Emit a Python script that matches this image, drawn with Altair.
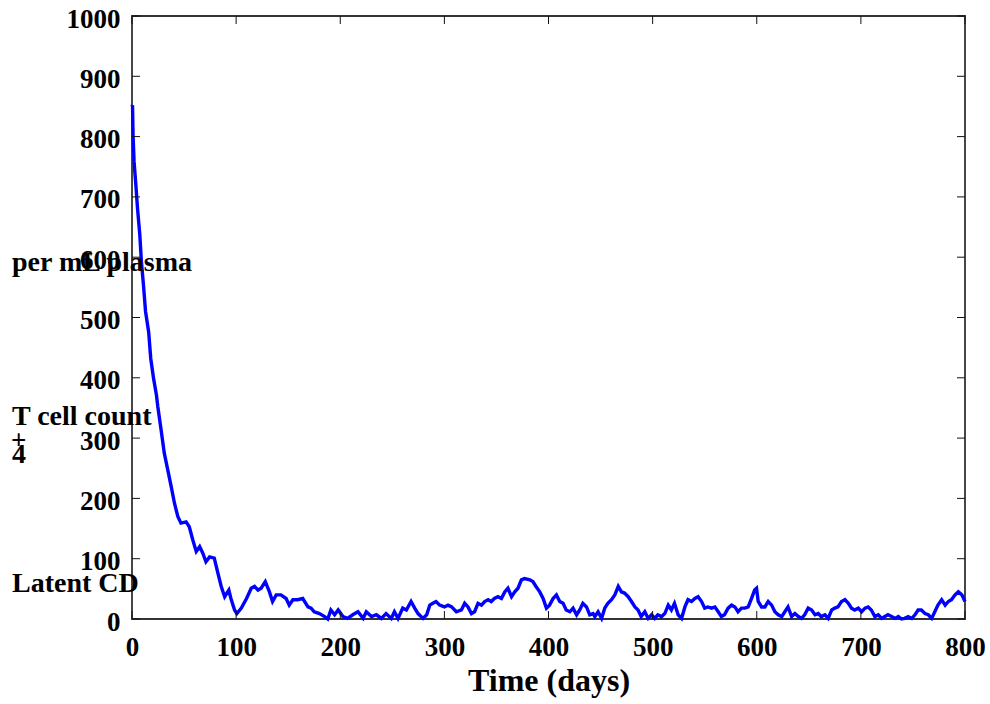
import altair as alt
import pandas as pd

# ---- data ----
days = [0, 0.5, 1, 2, 3.7, 5.3, 7.5, 9, 11, 13, 16, 18, 20.7, 23.5, 24.8, 28, 31, 34.4, 37.7,
        40.8, 44, 47, 52, 55, 58.4, 61.7, 65, 68, 71, 74.5, 79, 82.5, 85.7, 89, 93, 95, 98.5,
        100.7, 105, 110, 114.5, 117.7, 121, 124, 128, 132, 135, 138.5, 143, 148, 151, 154.5,
        159, 164, 169, 172, 175, 180, 185, 188, 191, 194.6, 198, 202.6, 207, 212, 217, 222,
        225, 230, 234.7, 239.5, 244, 249, 252, 255.5, 260, 263.5, 268, 271.5, 274.7, 279.5,
        283, 286, 289, 292, 295.5, 300, 303.5, 307, 311.5, 316.4, 319.5, 322.7, 326, 329,
        332.3, 335.6, 338.7, 342, 345, 348, 351.5, 354.8, 358, 361, 364.5, 367.6, 370.7, 374,
        377, 382, 385, 388, 391.6, 394.8, 398, 401, 404.4, 407.6, 410.8, 414, 417, 420.5,
        423.6, 427, 430, 433, 436.5, 439.6, 442.8, 444.5, 447.6, 451, 454, 457, 460.5, 463.7,
        467, 470, 473, 476.5, 479.7, 483, 486, 489, 492.5, 495.7, 499, 502, 505, 508.5, 511.7,
        515, 518, 521, 524.5, 527.8, 531, 534, 537.4, 540.6, 543.7, 547, 550, 553, 556.6,
        559.8, 563, 566, 569, 572.5, 575.8, 579, 582, 585.4, 588.6, 591.8, 595, 598, 599.8,
        601.4, 604.6, 607.8, 611, 614.3, 617.4, 620.6, 624, 627, 630, 633.5, 636.6, 640, 643,
        646, 649.4, 652.7, 656, 659, 662, 665.5, 668.6, 672, 675, 678, 681.4, 684.7, 688, 691,
        694, 697.5, 700.7, 704, 707, 710, 713.5, 716.7, 720, 723, 726, 729.6, 732.7, 736, 739,
        742, 745.5, 748.8, 752, 755, 758, 761.6, 764.7, 768, 771, 774, 777.6, 781, 784, 787,
        790.4, 793.6, 797, 800]
cells = [850, 852, 803, 758, 720, 681, 637, 593, 554, 510, 476, 432, 399, 371, 352, 313, 275,
         247, 219, 192, 170, 159, 161, 153, 131, 112, 120, 109, 95, 103, 101, 76, 54, 37, 48,
         34, 15, 9, 18, 34, 51, 54, 48, 51, 62, 45, 29, 40, 40, 34, 23, 32, 32, 34, 20, 18, 12,
         9, 4, 0, 15, 7, 15, 4, 1, 7, 12, 1, 12, 4, 7, 1, 9, 1, 12, 1, 18, 15, 29, 18, 9, 1, 7,
         23, 26, 29, 23, 20, 23, 20, 12, 15, 26, 20, 9, 12, 26, 23, 29, 32, 29, 34, 37, 34, 45,
         51, 37, 45, 51, 65, 67, 65, 62, 54, 45, 34, 18, 23, 34, 40, 29, 26, 15, 12, 18, 7, 15,
         26, 20, 7, 9, 4, 12, 1, 18, 26, 32, 40, 54, 45, 43, 37, 29, 20, 15, 4, 12, 1, 7, 1, 7,
         4, 9, 23, 15, 26, 7, 1, 20, 32, 29, 34, 37, 29, 18, 20, 18, 20, 12, 4, 7, 18, 23, 20,
         12, 18, 18, 20, 34, 48, 51, 29, 20, 20, 29, 23, 12, 7, 4, 12, 20, 4, 9, 4, 1, 7, 18,
         15, 7, 9, 4, 7, 1, 15, 18, 20, 29, 32, 26, 18, 15, 18, 12, 18, 20, 15, 4, 7, 1, 4, 7,
         4, 1, 4, 0, 1, 4, 1, 7, 15, 15, 9, 7, 1, 12, 23, 32, 23, 29, 32, 40, 45, 40, 29]

x_ticks = [0, 100, 200, 300, 400, 500, 600, 700, 800]
y_ticks = [0, 100, 200, 300, 400, 500, 600, 700, 800, 900, 1000]

W, H = 833, 603
FONT = "Liberation Serif"

xs = alt.Scale(domain=[0, 800], nice=False, zero=False)
ys = alt.Scale(domain=[0, 1000], nice=False, zero=False)

line_df = pd.DataFrame({"day": days, "cells": cells})
xt = pd.DataFrame({"t": x_ticks})
yt = pd.DataFrame({"t": y_ticks})

line = alt.Chart(line_df).mark_line(color="#0000ff", strokeWidth=3.4).encode(
    x=alt.X("day:Q", scale=xs, title="Time (days)",
            axis=alt.Axis(values=x_ticks, format="d", ticks=False, tickSize=0, domain=False,
                          grid=False, labelFont=FONT, labelFontWeight="bold", labelFontSize=27,
                          labelColor="black", labelPadding=15, labelFlush=False,
                          titleFont=FONT, titleFontWeight="bold", titleFontSize=32,
                          titleColor="black", titlePadding=5)),
    y=alt.Y("cells:Q", scale=ys, title="",
            axis=alt.Axis(values=y_ticks, format="d", ticks=False, tickSize=0, domain=False,
                          grid=False, labelFont=FONT, labelFontWeight="bold", labelFontSize=27,
                          labelColor="black", labelPadding=12, labelOffset=3,
                          labelFlush=False)),
)

tick_color = "#111111"
bottom_ticks = alt.Chart(xt).mark_rule(color=tick_color, strokeWidth=1).encode(
    x=alt.X("t:Q", scale=xs), y=alt.value(H), y2=alt.value(H - 8))
top_ticks = alt.Chart(xt).mark_rule(color=tick_color, strokeWidth=1).encode(
    x=alt.X("t:Q", scale=xs), y=alt.value(0), y2=alt.value(8))
left_ticks = alt.Chart(yt).mark_rule(color=tick_color, strokeWidth=1).encode(
    y=alt.Y("t:Q", scale=ys), x=alt.value(0), x2=alt.value(8))
right_ticks = alt.Chart(yt).mark_rule(color=tick_color, strokeWidth=1).encode(
    y=alt.Y("t:Q", scale=ys), x=alt.value(W), x2=alt.value(W - 8))

# fragments of the (garbled) y-axis title, as in the reference
frag_text = ["per mL plasma", "T cell count", "4", "Latent CD"]
frag_x = [-120, -120, -120, -120]
frag_y = [255, 409, 447, 576]
frag_df = pd.DataFrame({"txt": frag_text, "px": frag_x, "py": frag_y})

frags = alt.Chart(frag_df).mark_text(
    font=FONT, fontWeight="bold", fontSize=28, align="left", baseline="alphabetic",
    color="black").encode(
    text="txt:N", x=alt.X("px:Q", scale=None), y=alt.Y("py:Q", scale=None))

plus = alt.Chart(pd.DataFrame({"txt": ["+"]})).mark_text(
    font=FONT, fontWeight="bold", fontSize=27, align="left", baseline="alphabetic",
    color="black").encode(text="txt:N", x=alt.value(-121), y=alt.value(433))

chart = alt.layer(line, bottom_ticks, top_ticks, left_ticks, right_ticks, frags, plus).properties(
    width=W, height=H,
    autosize=alt.AutoSizeParams(type="none"),
    padding={"left": 132, "top": 16, "right": 25, "bottom": 85},
    background="white",
).configure_view(stroke="#333333", strokeWidth=1.8)

chart.save("out.html", embed_options={"renderer": "svg", "actions": False})
